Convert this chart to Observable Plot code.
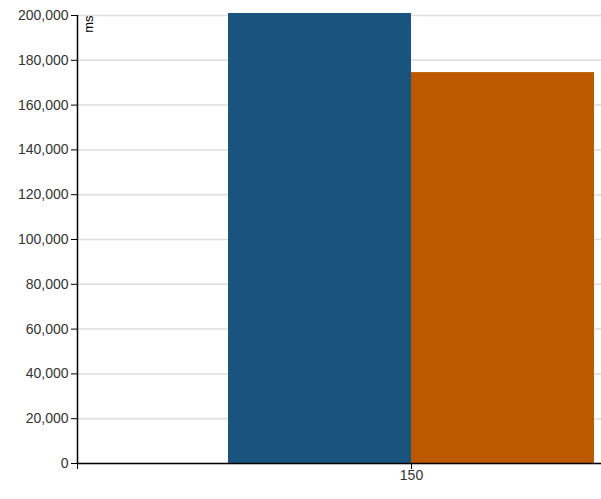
<!DOCTYPE html>
<html>
<head>
<meta charset="utf-8">
<script src="https://cdn.jsdelivr.net/npm/d3@7"></script>
<script src="https://cdn.jsdelivr.net/npm/@observablehq/plot@0.6"></script>
<style>
  html, body { margin: 0; padding: 0; background: #fff; }
  #chart svg { display: block; }
</style>
</head>
<body>
<div id="chart"></div>
<script>
// ---- data ----
const categories = [150];
const series = ["series 1", "series 2"];
const seriesColors = ["#18547d", "#bc5900"];
const values = [[200900, 174500]];      // one row per category
const yTicks = [0, 20000, 40000, 60000, 80000, 100000, 120000, 140000, 160000, 180000, 200000];
const xTicks = [150];
const yLabel = "ms";

// ---- build table ----
const barWidth = 10; // x units per bar
const rows = [];
categories.forEach((c, i) => {
  series.forEach((s, j) => {
    rows.push({category: c, series: s, value: values[i][j],
               x1: c + (j - series.length / 2) * barWidth,
               x2: c + (j + 1 - series.length / 2) * barWidth});
  });
});
const xLo = 150 - (334 / 183) * barWidth;
const xHi = 150 + (190 / 183) * barWidth;

const font = "'Liberation Sans', Arial, sans-serif";

const chart = Plot.plot({
  width: 601,
  height: 499,
  marginLeft: 77,
  marginRight: 0,
  marginTop: 15,
  marginBottom: 36,
  style: {fontFamily: font, fontSize: "14px", color: "#333", background: "#fff"},
  x: {type: "linear", domain: [xLo, xHi]},
  y: {domain: [0, 200000]},
  color: {domain: series, range: seriesColors},
  marks: [
    Plot.gridY(yTicks, {stroke: "#ddd", strokeOpacity: 1, strokeWidth: 1.5}),
    Plot.rectY(rows, {x1: "x1", x2: "x2", y1: 0, y2: "value", fill: "series", clip: false}),
    Plot.ruleY([0], {stroke: "#000", strokeWidth: 1.5}),
    Plot.ruleX([xLo], {y1: 0, y2: 200000, stroke: "#000", strokeWidth: 1.5}),
    Plot.axisY({ticks: yTicks, tickSize: 6, tickPadding: 3, tickFormat: d3.format(","),
                label: null, fontSize: 14, stroke: "#000", fill: "#333"}),
    Plot.axisX({ticks: [xLo, ...xTicks], tickSize: 6, tickPadding: 1,
                tickFormat: d => xTicks.includes(d) ? String(d) : "",
                label: null, fontSize: 14, stroke: "#000", fill: "#333"}),
    Plot.text([yLabel], {x: xLo, y: 200000, text: d => d, rotate: -90, textAnchor: "end",
                         dx: 11, fontSize: 13, fill: "#000"})
  ]
});
document.getElementById("chart").appendChild(chart);
</script>
</body>
</html>
